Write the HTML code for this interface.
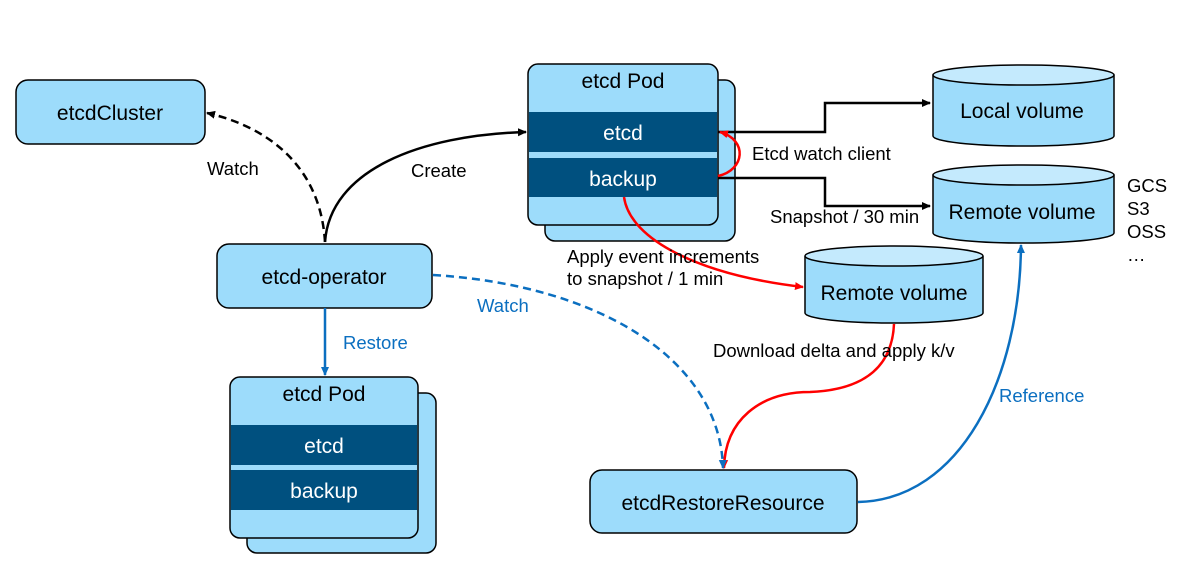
<!DOCTYPE html>
<html><head><style>
html,body{margin:0;padding:0;background:#fff}
svg{display:block}
text{font-family:"Liberation Sans",sans-serif}
</style></head><body>
<svg width="1198" height="572" viewBox="0 0 1198 572" xmlns="http://www.w3.org/2000/svg">
<defs>
<marker id="ak" markerWidth="10" markerHeight="10" refX="8" refY="5" orient="auto" markerUnits="userSpaceOnUse"><path d="M0,1 L9,5 L0,9 z" fill="#000"/></marker>
<marker id="ar" markerWidth="10" markerHeight="10" refX="8" refY="5" orient="auto" markerUnits="userSpaceOnUse"><path d="M0,1 L9,5 L0,9 z" fill="#f00"/></marker>
<marker id="ab" markerWidth="10" markerHeight="10" refX="8" refY="5" orient="auto" markerUnits="userSpaceOnUse"><path d="M0,1 L9,5 L0,9 z" fill="#0b6fc0"/></marker>
</defs>
<g stroke="#000" stroke-width="1.5" fill="#9ddcfb">
<rect x="16" y="80" width="189" height="64" rx="12"/>
<rect x="217" y="244" width="215" height="64" rx="12"/>
<rect x="590" y="470" width="267" height="63" rx="12"/>
<rect x="545" y="80" width="190" height="161" rx="10"/>
<rect x="528" y="64" width="190" height="161" rx="10"/>
<rect x="247" y="393" width="189" height="160" rx="10"/>
<rect x="230" y="377" width="188" height="161" rx="10"/>
</g>
<g fill="#00507f">
<rect x="529" y="112" width="188" height="40"/>
<rect x="529" y="158" width="188" height="39"/>
<rect x="231" y="425" width="186" height="40"/>
<rect x="231" y="470" width="186" height="40"/>
</g>
<g stroke="#000" stroke-width="1.5">
<path d="M933,75 V136 A90.5,10 0 0 0 1114,136 V75" fill="#9ddcfb"/>
<ellipse cx="1023.5" cy="75" rx="90.5" ry="10" fill="#c4eafd"/>
<path d="M933,175 V233 A90.5,10 0 0 0 1114,233 V175" fill="#9ddcfb"/>
<ellipse cx="1023.5" cy="175" rx="90.5" ry="10" fill="#c4eafd"/>
<path d="M805,256 V313 A89,10 0 0 0 983,313 V256" fill="#9ddcfb"/>
<ellipse cx="894" cy="256" rx="89" ry="10" fill="#c4eafd"/>
</g>
<g fill="none" stroke-width="2.5">
<path d="M325,242 C320,160 260,125 207,113" stroke="#000" stroke-dasharray="8,5" marker-end="url(#ak)"/>
<path d="M325,242 C330,170 420,135 526,132" stroke="#000" marker-end="url(#ak)"/>
<path d="M718,132 H825 V103 H930" stroke="#000" marker-end="url(#ak)"/>
<path d="M718,178 H825 V206 H930" stroke="#000" marker-end="url(#ak)"/>
<path d="M718,176 C745,170 748,140 720,132" stroke="#f00" marker-end="url(#ar)"/>
<path d="M624,197 C630,240 700,275 803,287" stroke="#f00" marker-end="url(#ar)"/>
<path d="M894,324 C892,370 860,390 810,392 C760,392 725,420 724,468" stroke="#f00" marker-end="url(#ar)"/>
<path d="M325,308 V375" stroke="#0b6fc0" marker-end="url(#ab)"/>
<path d="M433,275 C600,285 720,360 723,468" stroke="#0b6fc0" stroke-dasharray="8,5" marker-end="url(#ab)"/>
<path d="M858,502 C960,500 1020,380 1021,245" stroke="#0b6fc0" marker-end="url(#ab)"/>
</g>
<g font-size="21" text-anchor="middle" fill="#000">
<text x="110" y="120">etcdCluster</text>
<text x="324" y="284">etcd-operator</text>
<text x="723" y="510">etcdRestoreResource</text>
<text x="623" y="88">etcd Pod</text>
<text x="324" y="401">etcd Pod</text>
<text x="1022" y="118">Local volume</text>
<text x="1022" y="219">Remote volume</text>
<text x="894" y="300">Remote volume</text>
</g>
<g font-size="21" text-anchor="middle" fill="#fff">
<text x="623" y="140">etcd</text>
<text x="623" y="186">backup</text>
<text x="324" y="453">etcd</text>
<text x="324" y="498">backup</text>
</g>
<g font-size="18.5" fill="#000">
<text x="207" y="175">Watch</text>
<text x="411" y="177">Create</text>
<text x="752" y="160">Etcd watch client</text>
<text x="770" y="223">Snapshot / 30 min</text>
<text x="567" y="263">Apply event increments</text>
<text x="567" y="285">to snapshot / 1 min</text>
<text x="713" y="357">Download delta and apply k/v</text>
<text x="1127" y="192">GCS</text>
<text x="1127" y="215">S3</text>
<text x="1127" y="238">OSS</text>
<text x="1127" y="261">…</text>
</g>
<g font-size="18.5" fill="#0b6fc0">
<text x="343" y="349">Restore</text>
<text x="477" y="312">Watch</text>
<text x="999" y="402">Reference</text>
</g>
</svg>
</body></html>
